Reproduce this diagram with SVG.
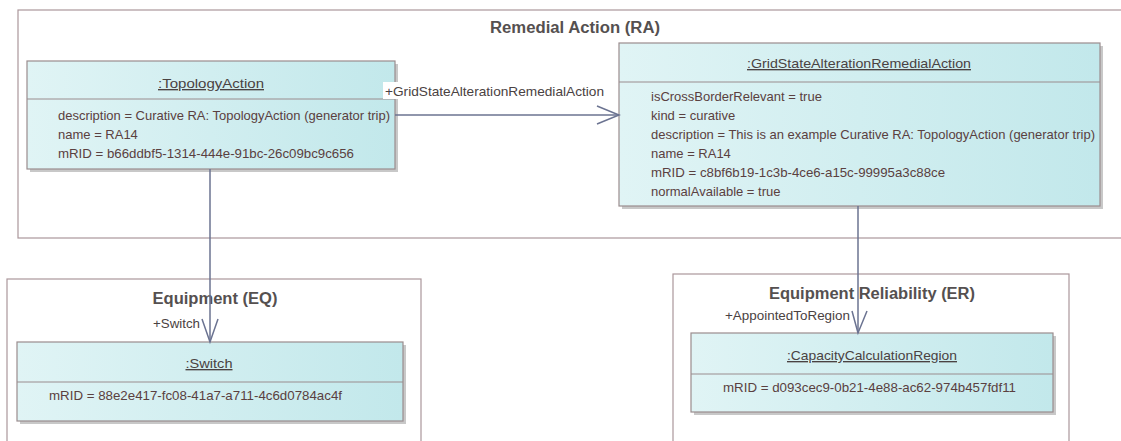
<svg xmlns="http://www.w3.org/2000/svg" width="1121" height="441" viewBox="0 0 1121 441">
<style>
.pkg{fill:#ffffff;stroke:#ab979b;stroke-width:1.2}
.pkgt{font-family:"Liberation Sans",Arial,sans-serif;font-size:16px;font-weight:bold;fill:#555050;text-anchor:middle}
.box{fill:url(#g);stroke:#9a8c8e;stroke-width:1.2}
.shd{fill:#c8c8c8}
.sep{stroke:#9a8c8e;stroke-width:1}
.ttl{font-family:"Liberation Sans",Arial,sans-serif;font-size:13.5px;fill:#4a4242;text-anchor:middle;text-decoration:underline}
.att{font-family:"Liberation Sans",Arial,sans-serif;font-size:13px;fill:#5a4040}
.lbl{font-family:"Liberation Sans",Arial,sans-serif;font-size:13px;fill:#4a4242}
.con{stroke:#6b7391;stroke-width:1.5;fill:none}
</style>
<defs>
<linearGradient id="g" x1="0" y1="0" x2="1" y2="0">
<stop offset="0" stop-color="#e0f4f5"/>
<stop offset="1" stop-color="#c2e8eb"/>
</linearGradient>
</defs>
<rect width="1121" height="441" fill="#ffffff"/>
<g id="pkg-RA">
<rect class="pkg" x="18" y="10" width="1110" height="228"/>
<text class="pkgt" x="575" y="33" textLength="170" lengthAdjust="spacingAndGlyphs">Remedial Action (RA)</text>
</g>
<g id="pkg-EQ">
<rect class="pkg" x="7" y="279" width="414" height="170"/>
<text class="pkgt" x="215" y="304" textLength="125" lengthAdjust="spacingAndGlyphs">Equipment (EQ)</text>
</g>
<g id="pkg-ER">
<rect class="pkg" x="673" y="274" width="396" height="175"/>
<text class="pkgt" x="872" y="299" textLength="206" lengthAdjust="spacingAndGlyphs">Equipment Reliability (ER)</text>
</g>
<g id="TopologyAction">
<rect class="shd" x="30" y="64" width="368" height="108"/>
<rect class="box" x="27" y="61" width="368" height="108"/>
<line class="sep" x1="27" y1="99" x2="395" y2="99"/>
<text class="ttl" x="211" y="88" textLength="106" lengthAdjust="spacingAndGlyphs">:TopologyAction</text>
<text class="att" x="58" y="120" textLength="332" lengthAdjust="spacingAndGlyphs">description = Curative RA: TopologyAction (generator trip)</text>
<text class="att" x="58" y="139">name = RA14</text>
<text class="att" x="58" y="158" textLength="296" lengthAdjust="spacingAndGlyphs">mRID = b66ddbf5-1314-444e-91bc-26c09bc9c656</text>
</g>
<g id="GridStateAlterationRemedialAction">
<rect class="shd" x="622" y="46" width="481" height="163"/>
<rect class="box" x="619" y="43" width="481" height="163"/>
<line class="sep" x1="619" y1="82" x2="1100" y2="82"/>
<text class="ttl" x="859" y="68" textLength="224" lengthAdjust="spacingAndGlyphs">:GridStateAlterationRemedialAction</text>
<text class="att" x="651" y="101">isCrossBorderRelevant = true</text>
<text class="att" x="651" y="120">kind = curative</text>
<text class="att" x="651" y="139" textLength="444" lengthAdjust="spacingAndGlyphs">description = This is an example Curative RA: TopologyAction (generator trip)</text>
<text class="att" x="651" y="158">name = RA14</text>
<text class="att" x="651" y="177" textLength="294" lengthAdjust="spacingAndGlyphs">mRID = c8bf6b19-1c3b-4ce6-a15c-99995a3c88ce</text>
<text class="att" x="651" y="196">normalAvailable = true</text>
</g>
<g id="Switch">
<rect class="shd" x="20" y="345" width="386" height="79"/>
<rect class="box" x="17" y="342" width="386" height="79"/>
<line class="sep" x1="17" y1="382" x2="403" y2="382"/>
<text class="ttl" x="209" y="368" textLength="47" lengthAdjust="spacingAndGlyphs">:Switch</text>
<text class="att" x="49" y="400" textLength="293" lengthAdjust="spacingAndGlyphs">mRID = 88e2e417-fc08-41a7-a711-4c6d0784ac4f</text>
</g>
<g id="CapacityCalculationRegion">
<rect class="shd" x="694" y="336" width="362" height="79"/>
<rect class="box" x="691" y="333" width="362" height="79"/>
<line class="sep" x1="691" y1="374" x2="1053" y2="374"/>
<text class="ttl" x="872" y="360" textLength="170" lengthAdjust="spacingAndGlyphs">:CapacityCalculationRegion</text>
<text class="att" x="723" y="392" textLength="293" lengthAdjust="spacingAndGlyphs">mRID = d093cec9-0b21-4e88-ac62-974b457fdf11</text>
</g>
<g id="connectors">
<line class="con" x1="395" y1="115" x2="619" y2="115"/>
<polyline class="con" points="597,106 619,115 597,124"/>
<rect x="383" y="82" width="222" height="17" fill="#ffffff"/>
<text class="lbl" x="385" y="96" textLength="219" lengthAdjust="spacingAndGlyphs">+GridStateAlterationRemedialAction</text>
<line class="con" x1="210" y1="169" x2="210" y2="342"/>
<polyline class="con" points="202,319 210,342 218,319"/>
<text class="lbl" x="153" y="328" textLength="47" lengthAdjust="spacingAndGlyphs">+Switch</text>
<line class="con" x1="858" y1="206" x2="858" y2="333"/>
<polyline class="con" points="852,311 858,333 867,311"/>
<text class="lbl" x="725" y="320" textLength="125" lengthAdjust="spacingAndGlyphs">+AppointedToRegion</text>
</g>
</svg>
